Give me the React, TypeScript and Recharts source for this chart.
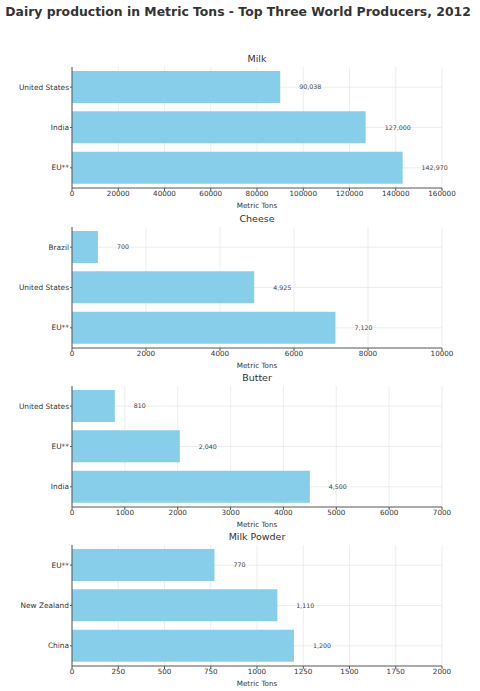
import React from 'react';
import { BarChart, Bar, XAxis, YAxis, CartesianGrid, LabelList, Label } from 'recharts';

const mainTitle = 'Dairy production in Metric Tons - Top Three World Producers, 2012';
const axisTitle = 'Metric Tons';

const milkCountries = ['United States', 'India', 'EU**'];
const milkValues = [90038, 127000, 142970];
const milkTicks = [0, 20000, 40000, 60000, 80000, 100000, 120000, 140000, 160000];

const cheeseCountries = ['Brazil', 'United States', 'EU**'];
const cheeseValues = [700, 4925, 7120];
const cheeseTicks = [0, 2000, 4000, 6000, 8000, 10000];

const butterCountries = ['United States', 'EU**', 'India'];
const butterValues = [810, 2040, 4500];
const butterTicks = [0, 1000, 2000, 3000, 4000, 5000, 6000, 7000];

const powderCountries = ['EU**', 'New Zealand', 'China'];
const powderValues = [770, 1110, 1200];
const powderTicks = [0, 250, 500, 750, 1000, 1250, 1500, 1750, 2000];

const panels = [
  { title: 'Milk', countries: milkCountries, values: milkValues, ticks: milkTicks, top: 50 },
  { title: 'Cheese', countries: cheeseCountries, values: cheeseValues, ticks: cheeseTicks, top: 210 },
  { title: 'Butter', countries: butterCountries, values: butterValues, ticks: butterTicks, top: 369 },
  { title: 'Milk Powder', countries: powderCountries, values: powderValues, ticks: powderTicks, top: 528 },
];

const FONT = '"DejaVu Sans", sans-serif';
const BAR = '#87CEEB';
const AXIS = '#555555';
const GRID = '#e8e8e8';

function CategoryTick(props: any) {
  const { x, y, payload } = props;
  return (
    <text
      x={x}
      y={y}
      textAnchor="end"
      dominantBaseline="central"
      fontSize={7.4}
      fill="#333"
      fontFamily={FONT}
    >
      {payload.value}
    </text>
  );
}

function Panel({ p }: { p: typeof panels[number] }) {
  const data = p.countries.map((c, i) => ({ country: c, value: p.values[i] }));
  const max = p.ticks[p.ticks.length - 1];
  const n = data.length;
  return (
    <div style={{ position: 'absolute', left: 0, top: p.top, width: 480, height: 160 }}>
      <div
        style={{
          position: 'absolute', left: 157, width: 200, top: 3, textAlign: 'center',
          fontFamily: FONT, fontSize: 9.5, color: '#333', lineHeight: '12px',
        }}
      >
        {p.title}
      </div>
      <BarChart
        width={480}
        height={160}
        data={data}
        layout="vertical"
        margin={{ top: 17, right: 38, bottom: 0, left: 0 }}
        barCategoryGap={4}
        style={{ fontFamily: FONT }}
      >
        <CartesianGrid
          stroke={GRID}
          strokeWidth={0.8}
          horizontalCoordinatesGenerator={({ offset }: any) =>
            data.map((_, i) => offset.top + ((i + 0.5) * offset.height) / n)
          }
        />
        <XAxis
          type="number"
          domain={[0, max]}
          ticks={p.ticks}
          interval={0}
          height={22}
          tickSize={3}
          tickMargin={0}
          stroke={AXIS}
          tick={{ fontSize: 7.2, fill: '#333', fontFamily: FONT }}
          allowDataOverflow
        >
          <Label value={axisTitle} position="insideBottom" offset={2} style={{ fontSize: 7.2, fill: '#333', fontFamily: FONT }} />
        </XAxis>
        <YAxis
          type="category"
          dataKey="country"
          width={72}
          tickSize={2}
          tickMargin={1}
          stroke={AXIS}
          axisLine={{ stroke: AXIS }}
          tick={<CategoryTick />}
        />
        <Bar dataKey="value" fill={BAR} isAnimationActive={false}>
          <LabelList
            dataKey="value"
            position="right"
            offset={19}
            formatter={(v: any) => Number(v).toLocaleString('en-US')}
            style={{ fontSize: 6.3, fill: '#444', fontFamily: FONT }}
          />
        </Bar>
      </BarChart>
    </div>
  );
}

export default function App() {
  return (
    <div style={{ position: 'absolute', left: 0, top: 0, width: 480, height: 691, background: '#fff' }}>
      <div
        style={{
          position: 'absolute', left: 0, width: 476, top: 4, textAlign: 'center',
          fontFamily: FONT, fontWeight: 'bold', fontSize: 12.4, color: '#333', lineHeight: '16px',
          whiteSpace: 'nowrap',
        }}
      >
        {mainTitle}
      </div>
      {panels.map((p) => (
        <Panel key={p.title} p={p} />
      ))}
    </div>
  );
}
